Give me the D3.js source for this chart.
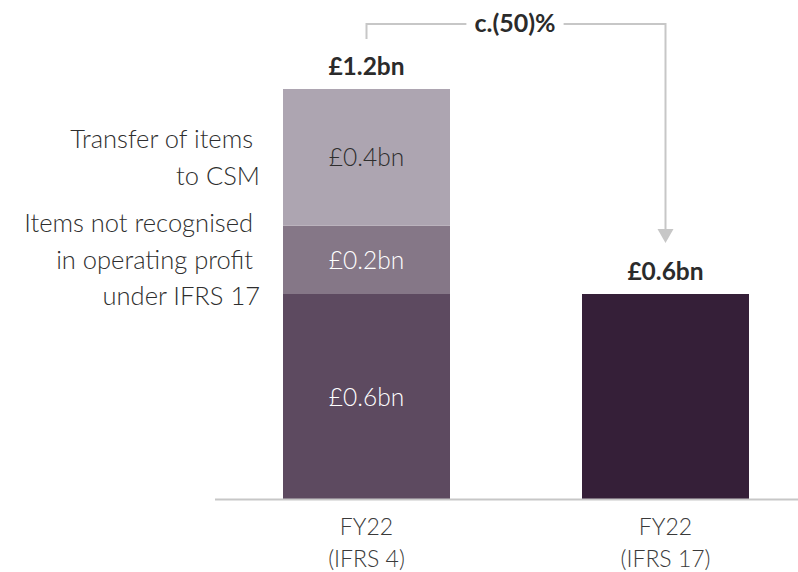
<!DOCTYPE html>
<html>
<head>
<meta charset="utf-8">
<script src="https://cdn.jsdelivr.net/npm/d3@7"></script>
<style>
	body { margin: 0; background: #fff; }
	text { font-family: Lato, "Noto Sans", sans-serif; }
</style>
</head>
<body>
<svg id="chart" width="798" height="572"></svg>
<script>
//Chart data
var categories = ["FY22|(IFRS 4)", "FY22|(IFRS 17)"];
var segmentNames = ["Operating profit", "Items not recognised", "Transfer to CSM"];
var ifrs4Values = [0.6, 0.2, 0.4];
var ifrs17Values = [0.6, 0, 0];
var segmentLabels = ["£0.6bn", "£0.2bn", "£0.4bn"];
var totalLabels = ["£1.2bn", "£0.6bn"];
var changeLabel = "c.(50)%";
var noteLines = [
	["Transfer of items", "to CSM"],
	["Items not recognised", "in operating profit", "under IFRS 17"]
];

//Colours
var segColors = ["#5d4a60", "#857787", "#ada5b1"];
var ifrs17Color = "#351f38";
var greyLine = "#c7c7c7";

var svg = d3.select("#chart");

var x = d3.scaleBand()
	.domain(categories)
	.range([283, 749])
	.paddingInner(0.4415)
	.paddingOuter(0);

var y = d3.scaleLinear()
	.domain([0, 1.2])
	.range([499, 89]);

//Stacked series
var rows = categories.map(function(c, i) {
	var vals = i === 0 ? ifrs4Values : ifrs17Values;
	var r = {cat: c};
	segmentNames.forEach(function(n, j) { r[n] = vals[j]; });
	return r;
});
var stack = d3.stack().keys(segmentNames)(rows);

stack.forEach(function(layer, j) {
	svg.append("g").selectAll("rect")
		.data(layer.filter(function(d) { return d[1] - d[0] > 0; }))
		.join("rect")
		.attr("x", function(d) { return x(d.data.cat); })
		.attr("y", function(d) { return y(d[1]); })
		.attr("width", x.bandwidth())
		.attr("height", function(d) { return y(d[0]) - y(d[1]); })
		.attr("fill", function(d) { return d.data.cat === categories[1] ? ifrs17Color : segColors[j]; });
});

//Segment labels (first bar only)
stack.forEach(function(layer, j) {
	var d = layer[0];
	svg.append("text")
		.attr("x", x(categories[0]) + x.bandwidth() / 2)
		.attr("y", y((d[0] + d[1]) / 2) + 9)
		.attr("text-anchor", "middle")
		.attr("font-size", 24.5)
		.attr("font-weight", 300)
		.attr("fill", j === 2 ? "#2e2e2e" : "#ffffff")
		.text(segmentLabels[j]);
});

//Totals
categories.forEach(function(c, i) {
	var tot = d3.sum(i === 0 ? ifrs4Values : ifrs17Values);
	svg.append("text")
		.attr("x", x(c) + x.bandwidth() / 2)
		.attr("y", y(tot) - 14)
		.attr("text-anchor", "middle")
		.attr("font-size", 24.5)
		.attr("font-weight", 700)
		.attr("fill", "#2b2b2b")
		.text(totalLabels[i]);
});

//Baseline
svg.append("line")
	.attr("x1", 215).attr("x2", 798)
	.attr("y1", y(0) + 0.5).attr("y2", y(0) + 0.5)
	.attr("stroke", greyLine).attr("stroke-width", 2);

//Category labels
categories.forEach(function(c) {
	var t = svg.append("text")
		.attr("x", x(c) + x.bandwidth() / 2)
		.attr("y", 535)
		.attr("text-anchor", "middle")
		.attr("font-size", 23)
		.attr("font-weight", 300)
		.attr("fill", "#3a3a3a");
	c.split("|").forEach(function(s, k) {
		t.append("tspan")
			.attr("x", x(c) + x.bandwidth() / 2)
			.attr("dy", k === 0 ? 0 : 32)
			.text(s);
	});
});

//Side notes
var noteY = [148, 232];
noteLines.forEach(function(lines, i) {
	lines.forEach(function(s, k) {
		svg.append("text")
			.attr("x", k === lines.length - 1 ? 260 : 253)
			.attr("y", noteY[i] + k * 36.5)
			.attr("text-anchor", "end")
			.attr("font-size", 25.5)
			.attr("font-weight", 300)
			.attr("fill", "#2e2e2e")
			.text(s);
	});
});

/*=================================
	CHANGE BRACKET
**===============================*/
var cx1 = x(categories[0]) + x.bandwidth() / 2,
	cx2 = x(categories[1]) + x.bandwidth() / 2,
	topY = 24,
	tipY = y(d3.sum(ifrs17Values)) - 51;

var label = svg.append("text")
	.attr("x", 515)
	.attr("y", 32)
	.attr("text-anchor", "middle")
	.attr("font-size", 25)
	.attr("font-weight", 700)
	.attr("fill", "#2b2b2b")
	.text(changeLabel);
var bb = label.node().getBBox();

svg.append("path")
	.attr("d", "M" + cx1 + "," + 39 + "V" + topY + "H" + (bb.x - 8))
	.attr("fill", "none").attr("stroke", greyLine).attr("stroke-width", 2);
svg.append("path")
	.attr("d", "M" + (bb.x + bb.width + 8) + "," + topY + "H" + cx2 + "V" + (tipY - 13))
	.attr("fill", "none").attr("stroke", greyLine).attr("stroke-width", 2);
svg.append("path")
	.attr("d", "M" + (cx2 - 8) + "," + (tipY - 14) + "L" + (cx2 + 8) + "," + (tipY - 14) + "L" + cx2 + "," + tipY + "Z")
	.attr("fill", greyLine);
</script>
</body>
</html>
